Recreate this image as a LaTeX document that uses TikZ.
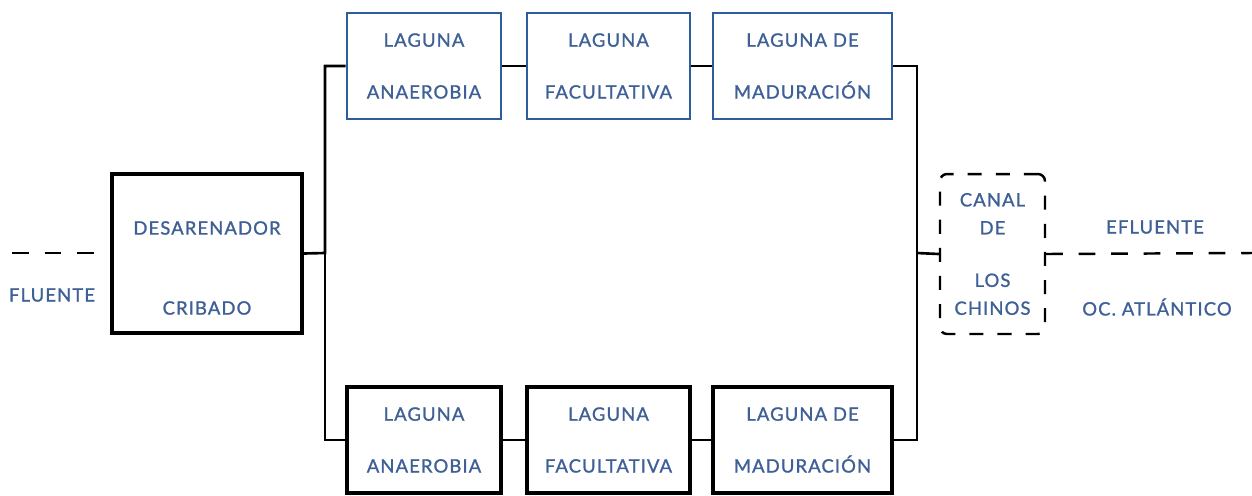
\documentclass[tikz,border=0pt]{standalone}
\usepackage{fontspec}
\setmainfont{Lato}[LetterSpace=6, FakeBold=1.2]
\usetikzlibrary{positioning}
\definecolor{textblue}{RGB}{62,96,150}
\definecolor{edgeblue}{RGB}{46,92,158}

\begin{document}
\begin{tikzpicture}[
    x=0.02cm, y=-0.02cm,
    stage/.style={rectangle, draw=black, line width=1.8pt, text=textblue, align=center, inner sep=0pt},
    pond/.style={stage, minimum height=2.12cm, font={\fontsize{10.5}{29.5}\selectfont}},
    toppond/.style={pond, draw=edgeblue, line width=1.5pt},
    canalbox/.style={rectangle, draw=black, line width=1.4pt, dash pattern=on 8pt off 8pt, rounded corners=4pt, text=textblue, align=center, inner sep=0pt, minimum width=2.1cm, minimum height=3.2cm, font={\fontsize{10.5}{15.9}\selectfont}},
    tag/.style={text=textblue, font={\fontsize{10.5}{12}\selectfont}},
    line/.style={draw=black, line width=1.5pt},
    flow/.style={draw=black, line width=1.4pt, dash pattern=on 9.5pt off 9pt}
]
    \useasboundingbox (0,0) rectangle (1252,495);

    % Entrada
    \coordinate (inA) at (12,253);
    \coordinate (inB) at (96,253);
    \node[tag] (fluente) at (52,295) {FLUENTE};
    \node[stage, minimum width=3.8cm, minimum height=3.18cm] (des) at (207,253.5) {};
    \node[tag] (desTop) at (207,228) {DESARENADOR};
    \node[tag] (desBot) at (207,308) {CRIBADO};

    % Linea superior
    \node[toppond, minimum width=3.08cm] (an1) at (424,66) {LAGUNA\\ANAEROBIA};
    \node[toppond, minimum width=3.26cm] (fa1) at (608.5,66) {LAGUNA\\FACULTATIVA};
    \node[toppond, minimum width=3.58cm] (ma1) at (802.5,66) {LAGUNA DE\\MADURACIÓN};

    % Linea inferior
    \node[pond, minimum width=3.08cm] (an2) at (424,440) {LAGUNA\\ANAEROBIA};
    \node[pond, minimum width=3.26cm] (fa2) at (608.5,440) {LAGUNA\\FACULTATIVA};
    \node[pond, minimum width=3.58cm] (ma2) at (802.5,440) {LAGUNA DE\\MADURACIÓN};

    % Salida
    \node[canalbox] (canal) at (992.5,254) {CANAL\\DE\\[14pt]LOS\\CHINOS};
    \node[tag] (efluente) at (1155,227) {EFLUENTE};
    \node[tag] (oceano) at (1157,307) {OC. ATLÁNTICO};
    \coordinate (outEnd) at (1252,253);
    \coordinate (busL) at (325,253);
    \coordinate (busR) at (917,253);

    % Conexiones
    \draw[flow] (inA) -- (inB);
    \draw[line] (des.east) -- (busL) |- (an1.west);
    \draw[line] (busL) |- (an2.west);
    \draw[line] (an1) -- (fa1);
    \draw[line] (fa1) -- (ma1);
    \draw[line] (an2) -- (fa2);
    \draw[line] (fa2) -- (ma2);
    \draw[line] (ma1.east) -| (busR);
    \draw[line] (ma2.east) -| (busR);
    \draw[line] (busR) -- (canal.west);
    \draw[flow] (canal.east) -- (outEnd);

\end{tikzpicture}
\end{document}
